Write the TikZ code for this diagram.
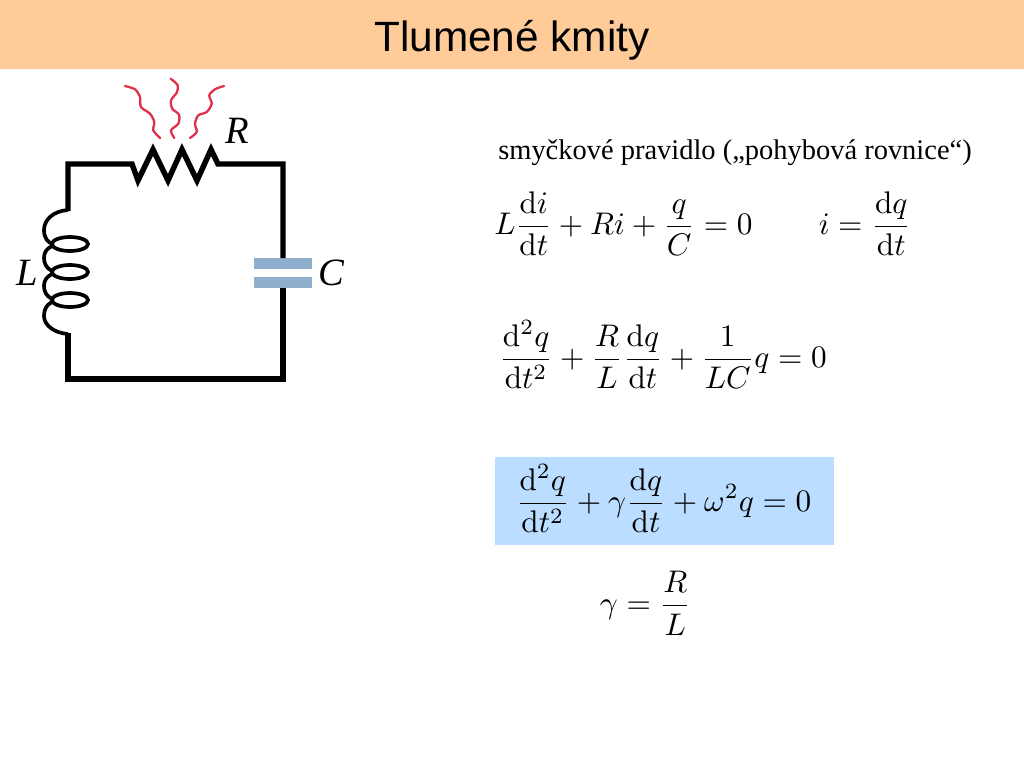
\documentclass[tikz,border=0pt]{standalone}
\usepackage{amsmath}
\usepackage{fontspec}
\newfontfamily\titlesans{Liberation Sans}
\newfontfamily\bodyserif{Liberation Serif}
\usetikzlibrary{positioning}
\definecolor{MyBand}{HTML}{FFCC99}
\definecolor{MyBox}{HTML}{BBDDFF}
\definecolor{MyPlate}{HTML}{8FB0CC}
\definecolor{MyHeat}{HTML}{E0304A}
\begin{document}
\begin{tikzpicture} [
			x=0.02cm,y=-0.02cm,
			every node/.style={align=center,inner sep=0pt,outer sep=0pt},
			band/.style={fill=MyBand,minimum width=20.48cm,minimum height=1.38cm},
			titlelabel/.style={font=\titlesans\fontsize{24.1}{28}\selectfont},
			textlabel/.style={font=\bodyserif\fontsize{16.2}{19}\selectfont},
			eqn/.style={scale=1.78},
			eqnbox/.style={fill=MyBox,minimum width=6.78cm,minimum height=1.76cm},
			symb/.style={font=\bodyserif\itshape\fontsize{22}{26}\selectfont},
			plate/.style={fill=MyPlate,minimum width=1.16cm,minimum height=0.22cm},
			wire/.style={draw,black,line width=3.1pt,line join=miter},
			coil/.style={draw,black,line width=2.1pt},
			heat/.style={draw=MyHeat,line width=1.3pt,line cap=round}
		]
			\useasboundingbox (0,0) rectangle (1024,768);
			\node at (512,34.5) [band] (titleband) {};
			\node at (512,40) [titlelabel] (title) {Tlumené kmity};
			\node at (735,153) [textlabel] (rule) {smyčkové pravidlo (\kern0pt„pohybová rovnice“)};
			\node at (623.5,224) [eqn] (loop) {$\displaystyle L\frac{\mathrm{d}i}{\mathrm{d}t}+Ri+\frac{q}{C}=0$};
			\node at (865,224) [eqn] (current) {$\displaystyle i=\frac{\mathrm{d}q}{\mathrm{d}t}$};
			\node at (663,355) [eqn] (motion) {$\displaystyle \frac{\mathrm{d}^2q}{\mathrm{d}t^2}+\frac{R}{L}\frac{\mathrm{d}q}{\mathrm{d}t}+\frac{1}{LC}q=0$};
			\node at (664.5,501) [eqnbox] (resultbox) {};
			\node at (663.5,499) [eqn] (result) {$\displaystyle \frac{\mathrm{d}^2q}{\mathrm{d}t^2}+\gamma\frac{\mathrm{d}q}{\mathrm{d}t}+\omega^2q=0$};
			\node at (645.5,603) [eqn] (damping) {$\displaystyle \gamma=\frac{R}{L}$};
			\node at (237,131) [symb] (labelR) {R};
			\node at (27,273) [symb] (labelL) {L};
			\node at (331,273) [symb] (labelC) {C};
			\node at (283,263.5) [plate] (plate1) {};
			\node at (283,282.5) [plate] (plate2) {};
			% circuit
			\path[wire] (plate1.north) -- (283,164) -- (218,164) -- (211,149.5) -- (197,180.5) -- (182,149.5) -- (168,180.5) -- (153,149.5) -- (138,180.5) -- (132,164) -- (68,164) -- (68,211);
			\path[wire] (plate2.south) -- (283,379) -- (68,379) -- (68,333);
			% coil
			\path[coil] (68,210) .. controls (53,211) and (44,220) .. (44,230) .. controls (44,238) and (48,243) .. (53,244);
			\path[coil] (52,246) .. controls (46,249) and (44,253) .. (44,258) .. controls (44,263) and (46,268) .. (52,271);
			\path[coil] (52,274) .. controls (46,277) and (44,281) .. (44,286) .. controls (44,291) and (46,296) .. (52,299);
			\path[coil] (52,302) .. controls (46,305) and (44,310) .. (44,316) .. controls (44,325) and (54,333) .. (68,334);
			\foreach \y in {244,272,300} {
				\path[coil] (70,\y) ellipse [x radius=18,y radius=7];
			}
			% heat
			\path[heat] plot[smooth] coordinates {(125,86) (135,89.3) (140,97) (141,107) (150,113.7) (154.3,122) (153.3,130.3) (160,138)};
			\path[heat] plot[smooth] coordinates {(170.7,78.7) (177.7,85.3) (176.7,92.7) (171,100.3) (172.3,108.7) (179,114.7) (178.3,123.7) (171,130.3) (174.3,138)};
			\path[heat] plot[smooth] coordinates {(224,86) (215,89.3) (209.3,95.3) (211.7,103.7) (206.7,112) (198.3,115.3) (195,123.7) (196.7,132) (190,138)};
		\end{tikzpicture}
\end{document}
